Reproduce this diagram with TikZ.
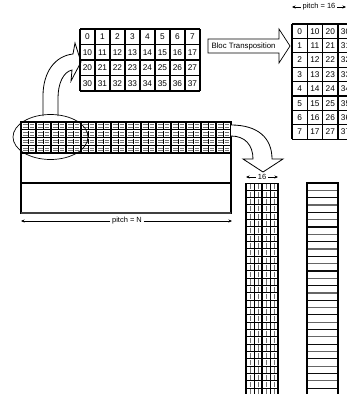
\documentclass[tikz,border=0pt]{standalone}
\usepackage{fontspec}
\setmainfont{Liberation Sans}
\usetikzlibrary{arrows.meta}
\begin{document}
\begin{tikzpicture}[x=1pt,y=-1pt,
  gridline/.style={line width=1.3pt},
  num/.style={font=\fontsize{8.3}{9}\selectfont, inner sep=0pt},
  lbl/.style={font=\fontsize{7.5}{8}\selectfont, inner sep=1.5pt},
  dim/.style={-{Stealth[length=3.5pt,width=3pt]}, line width=0.6pt},
  hollow/.style={draw, fill=white, line width=0.8pt, line join=miter}]
\useasboundingbox (0,0) rectangle (347,394);
\clip (0,0) rectangle (347,394);

% ---------- curved hollow arrow (up) ----------
\path[hollow] (43,116) -- (43,96) .. controls (43,72) and (55,56) .. (73,54)
  -- (75,43) -- (81,62) -- (71,81) -- (72,70)
  .. controls (63,72) and (58,84) .. (58,98) -- (58,116);

% ---------- left table ----------
\foreach \r in {0,...,3} \foreach \c in {0,...,7} {
  \node[num] (lt\r\c) at ({87.5+15*\c}, {36.75+15.5*\r}) {\the\numexpr \r*10+\c\relax};
}
\foreach \c in {0,...,8} \draw[gridline] ({80+15*\c},29) -- ({80+15*\c},91);
\foreach \r in {0,...,4} \draw[gridline] (80,{29+15.5*\r}) -- (200,{29+15.5*\r});

% ---------- Bloc Transposition arrow ----------
\path[hollow, line width=0.7pt] (208,39) -- (279,39) -- (279,29) -- (290,46)
  -- (279,63) -- (279,53) -- (208,53) -- cycle;
\node[font=\fontsize{7.8}{9}\selectfont, inner sep=0pt] (bt) at (243.5,46) {Bloc Transposition};

% ---------- right table ----------
\foreach \c in {0,...,3} \foreach \r in {0,...,7} {
  \node[num] (rt\c\r) at ({299.65+15.3*\c}, {31.2+14.4*\r}) {\the\numexpr \c*10+\r\relax};
}
\foreach \c in {0,...,4} \draw[gridline] ({292+15.3*\c},24) -- ({292+15.3*\c},139.2);
\foreach \r in {0,...,8} \draw[gridline] (292,{24+14.4*\r}) -- (360,{24+14.4*\r});

% pitch = 16
\node[lbl] (p16) at (319,7) {pitch = 16};
\coordinate (p16l) at (292,7);
\coordinate (p16r) at (346,7);
\draw[dim] (p16) -- (p16l);
\draw[dim] (p16) -- (p16r);

% ---------- memory block ----------
\draw[line width=1.2pt] (21,122) rectangle (231,213);
\draw[line width=1.1pt] (21,183) -- (231,183);
\draw[line width=2pt, black!75] (21,213) -- (231,213);
% strip pattern
\foreach \k in {0,...,13} \foreach \r in {0,...,3} {
  \draw[black!55, line width=0.6pt]
    ({21+15*\k+2},{122+7.75*\r+2.6}) -- ({21+15*\k+6.5},{122+7.75*\r+2.6})
    ({21+15*\k+8.5},{122+7.75*\r+2.6}) -- ({21+15*\k+13},{122+7.75*\r+2.6})
    ({21+15*\k+2},{122+7.75*\r+5.2}) -- ({21+15*\k+6.5},{122+7.75*\r+5.2})
    ({21+15*\k+8.5},{122+7.75*\r+5.2}) -- ({21+15*\k+13},{122+7.75*\r+5.2});
  \draw[black, line width=0.6pt] ({21+15*\k+7.5},{122+7.75*\r+1}) -- ({21+15*\k+7.5},{122+7.75*\r+6.75});
}
\foreach \k in {0,...,14} \draw[line width=1.2pt] ({21+15*\k},122) -- ({21+15*\k},153);
\foreach \r in {1,...,4} \draw[line width=1.1pt] (21,{122+7.75*\r}) -- (231,{122+7.75*\r});

% ellipse
\draw[line width=0.7pt] (50.5,137) ellipse [x radius=37.5, y radius=22.5];

% pitch = N
\node[lbl, fill=white] (pN) at (127,221) {pitch = N};
\coordinate (pNl) at (21,221);
\coordinate (pNr) at (232,221);
\draw[dim] (pN) -- (pNl);
\draw[dim] (pN) -- (pNr);

% ---------- curved hollow arrow (down) ----------
\path[hollow] (231,125) .. controls (258,125) and (272,138) .. (272,159)
  -- (283,159) -- (263,172) -- (243,159) -- (253,159)
  .. controls (253,145) and (245,136) .. (231,136);

% 16 label
\node[lbl] (s16) at (262,177) {16};
\coordinate (s16l) at (246,177);
\coordinate (s16r) at (278,177);
\draw[dim] (s16) -- (s16l);
\draw[dim] (s16) -- (s16r);

% ---------- transposed grid column ----------
\foreach \r in {0,...,28} {
  \foreach \x in {250,258,266,274}
    \draw[black!55, line width=0.8pt] (\x,{183+7.33*\r+1.2}) -- (\x,{183+7.33*\r+6.3});
}
\foreach \r in {0,...,29} \draw[line width=1pt] (246,{183+7.33*\r}) -- (278,{183+7.33*\r});
\foreach \x in {254,270} \draw[line width=0.9pt] (\x,183) -- (\x,400);
\foreach \x in {246,262,278} \draw[line width=1.3pt] (\x,183) -- (\x,400);

% ---------- plain column ----------
\foreach \r in {1,...,29} {
  \pgfmathsetmacro\shade{mod(\r,2)==0 ? 95 : 60}
  \draw[line width=1.1pt, black!\shade] (307,{183+7.33*\r}) -- (338,{183+7.33*\r});
}
\draw[line width=1.3pt] (307,400) -- (307,183) -- (338,183) -- (338,400);

\end{tikzpicture}
\end{document}
